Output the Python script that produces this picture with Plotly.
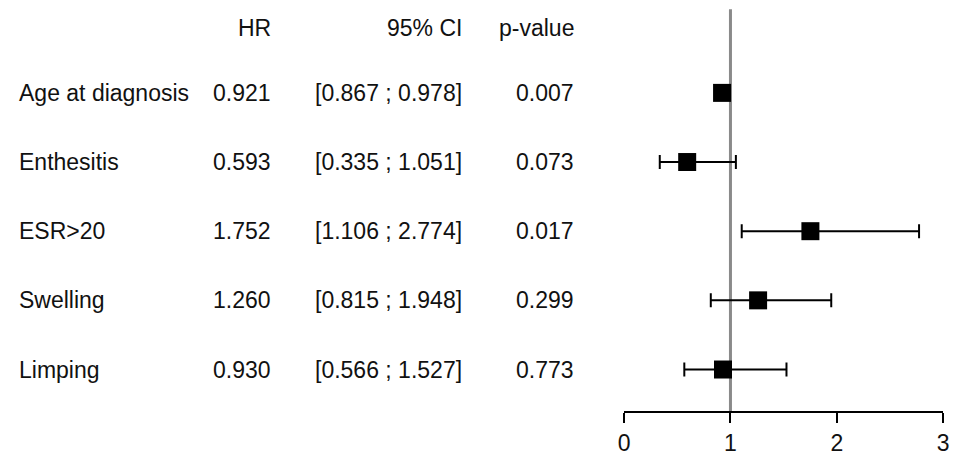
import plotly.graph_objects as go

labels = ["Age at diagnosis", "Enthesitis", "ESR>20", "Swelling", "Limping"]
hr = [0.921, 0.593, 1.752, 1.260, 0.930]
ci_low = [0.867, 0.335, 1.106, 0.815, 0.566]
ci_high = [0.978, 1.051, 2.774, 1.948, 1.527]
pvals = ["0.007", "0.073", "0.017", "0.299", "0.773"]
headers = ["HR", "95% CI", "p-value"]
tick_vals = [0, 1, 2, 3]

W, H = 956, 456
FONT = "Liberation Sans, Arial, Helvetica, sans-serif"
FS = 23

rows = list(range(len(labels)))

fig = go.Figure()
fig.add_trace(go.Scatter(
    x=hr, y=rows, mode="markers",
    marker=dict(symbol="square", size=18, color="black"),
    error_x=dict(type="data", symmetric=False,
                 array=[h - v for h, v in zip(ci_high, hr)],
                 arrayminus=[v - l for v, l in zip(hr, ci_low)],
                 color="black", thickness=2, width=7),
    cliponaxis=False, showlegend=False, hoverinfo="skip",
))

# reference line at HR = 1
fig.add_shape(type="line", xref="x", yref="y", x0=1, x1=1, y0=-1.21, y1=4.6,
              line=dict(color="#8a8a8a", width=3), layer="below")

def px(x):
    return x / W

ann = []
hdr_y = -0.94
ann.append(dict(x=px(270), y=hdr_y, text=headers[0], xanchor="right"))
ann.append(dict(x=px(464), y=hdr_y, text=headers[1], xanchor="right"))
ann.append(dict(x=px(577), y=hdr_y, text=headers[2], xanchor="right"))
for i, lab in enumerate(labels):
    ann.append(dict(x=px(11), y=i, text=lab, xanchor="left"))
    ann.append(dict(x=px(270), y=i, text=f"{hr[i]:.3f}", xanchor="right"))
    ann.append(dict(x=px(464), y=i, text=f"[{ci_low[i]:.3f} ; {ci_high[i]:.3f}]", xanchor="right"))
    ann.append(dict(x=px(577), y=i, text=pvals[i], xanchor="right"))
for a in ann:
    a.update(xref="paper", yref="y", yanchor="middle", showarrow=False,
             font=dict(family=FONT, size=FS, color="#111111"))

fig.update_layout(
    width=W, height=H,
    margin=dict(l=0, r=0, t=0, b=40),
    paper_bgcolor="white", plot_bgcolor="white",
    font=dict(family=FONT, size=FS, color="#111111"),
    annotations=ann,
    xaxis=dict(domain=[626 / W, 949 / W], range=[0, 3], tickvals=tick_vals,
               showgrid=False, zeroline=False, showline=True, linecolor="black",
               linewidth=2, ticks="outside", ticklen=10, tickwidth=2,
               tickcolor="black", tickfont=dict(family=FONT, size=FS, color="#111111"),
               fixedrange=True),
    yaxis=dict(range=[4.6, -1.343], visible=False, showgrid=False,
               zeroline=False, fixedrange=True),
)

fig.write_html("out.html", config={"displayModeBar": False},
               post_script="document.body.style.margin='0px';document.body.style.overflow='hidden';")
